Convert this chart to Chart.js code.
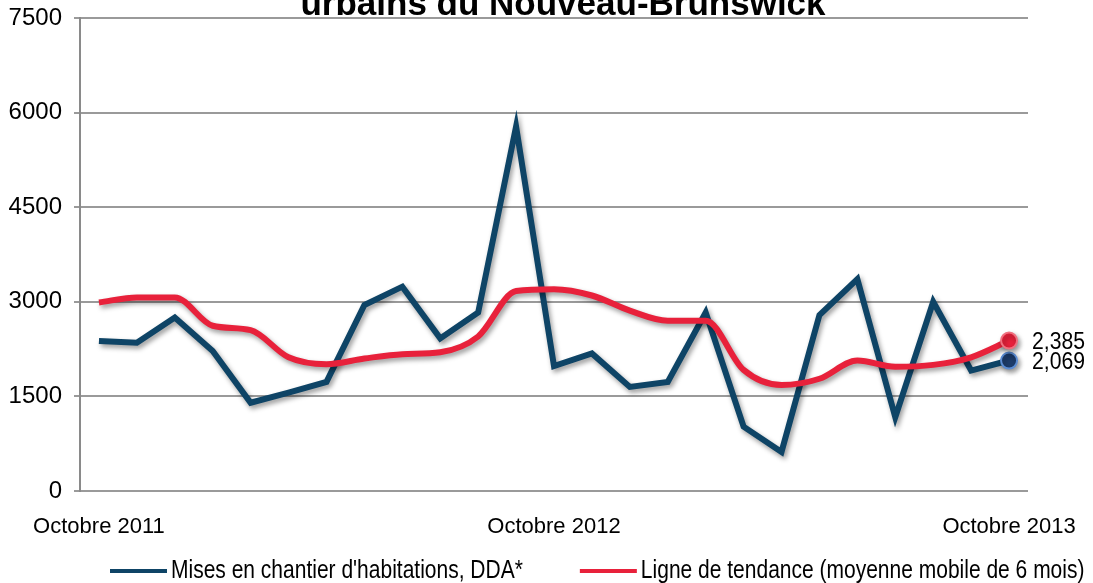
<!DOCTYPE html>
<html>
<head>
<meta charset="utf-8">
<script src="https://cdn.jsdelivr.net/npm/chart.js@4/dist/chart.umd.min.js"></script>
<style>
  body { margin: 0; background: #fff; }
  #wrap { width: 1093px; height: 583px; }
</style>
</head>
<body>
<div id="wrap"><canvas id="chart" width="1093" height="583"></canvas></div>
<script>
// mois d'octobre 2011 à octobre 2013
const months = [
  'Octobre 2011', 'Novembre 2011', 'Décembre 2011', 'Janvier 2012', 'Février 2012', 'Mars 2012',
  'Avril 2012', 'Mai 2012', 'Juin 2012', 'Juillet 2012', 'Août 2012', 'Septembre 2012',
  'Octobre 2012', 'Novembre 2012', 'Décembre 2012', 'Janvier 2013', 'Février 2013', 'Mars 2013',
  'Avril 2013', 'Mai 2013', 'Juin 2013', 'Juillet 2013', 'Août 2013', 'Septembre 2013',
  'Octobre 2013'
];
const shownLabels = ['Octobre 2011', 'Octobre 2012', 'Octobre 2013'];

// mises en chantier, DDA
const starts = [2380, 2350, 2750, 2220, 1400, 1560, 1730, 2950, 3240, 2420, 2830, 5780,
  1980, 2180, 1650, 1730, 2830, 1020, 620, 2790, 3360, 1170, 3000, 1910, 2069];
// moyenne mobile de 6 mois
const trend = [2990, 3070, 3070, 2620, 2550, 2120, 2010, 2100, 2170, 2200, 2450, 3170,
  3200, 3100, 2860, 2700, 2700, 1920, 1680, 1780, 2070, 1970, 2000, 2120, 2385];

const yTicks = [0, 1500, 3000, 4500, 6000, 7500];

const blue = '#0e4466';
const red = '#e8213b';
const font = '"Liberation Sans", Arial, sans-serif';

const lastIdx = months.length - 1;
const radiusAtEnd = months.map((m, i) => i === lastIdx ? 8 : 0);

// ombre portée sous les lignes
const shadowPlugin = {
  id: 'shadow',
  beforeDatasetDraw(chart) {
    const ctx = chart.ctx;
    ctx.save();
    ctx.shadowColor = 'rgba(0,0,0,0.4)';
    ctx.shadowBlur = 5;
    ctx.shadowOffsetX = 2;
    ctx.shadowOffsetY = 3;
  },
  afterDatasetDraw(chart) {
    chart.ctx.restore();
  }
};

// texte resserré horizontalement (police étroite)
function narrowText(ctx, text, x, y, squeeze) {
  ctx.save();
  ctx.translate(x, y);
  ctx.scale(squeeze, 1);
  ctx.fillText(text, 0, 0);
  ctx.restore();
  return ctx.measureText(text).width * squeeze;
}

// titre coupé en haut, étiquettes des dernières valeurs, légende
const extrasPlugin = {
  id: 'extras',
  afterDraw(chart) {
    const ctx = chart.ctx;
    ctx.save();
    ctx.fillStyle = '#000';
    ctx.font = 'bold 35px ' + font;
    ctx.textAlign = 'center';
    ctx.textBaseline = 'alphabetic';
    ctx.fillText('urbains du Nouveau-Brunswick', 563, 15);

    ctx.font = '23px ' + font;
    ctx.textAlign = 'left';
    ctx.textBaseline = 'middle';
    chart.data.datasets.forEach((ds, i) => {
      const pt = chart.getDatasetMeta(i).data[lastIdx];
      narrowText(ctx, ds.data[lastIdx].toLocaleString('en-US'), pt.x + 23, pt.y + 2, 0.92);
    });

    // légende
    let x = 110;
    const y = 571;
    ctx.font = '25px ' + font;
    chart.data.datasets.forEach(ds => {
      ctx.fillStyle = ds.borderColor;
      ctx.fillRect(x, y - 2, 57, 4);
      x += 61;
      ctx.fillStyle = '#000';
      x += narrowText(ctx, ds.label, x, y, 0.84) + 57;
    });
    ctx.restore();
  }
};

new Chart(document.getElementById('chart').getContext('2d'), {
  type: 'line',
  data: {
    labels: months,
    datasets: [{
      label: "Mises en chantier d'habitations, DDA*",
      data: starts,
      borderColor: blue,
      backgroundColor: blue,
      borderWidth: 6,
      tension: 0,
      pointRadius: radiusAtEnd,
      pointBackgroundColor: '#1d3c6b',
      pointBorderColor: '#5a8bd2',
      pointBorderWidth: 2,
      order: 2
    }, {
      label: 'Ligne de tendance (moyenne mobile de 6 mois)',
      data: trend,
      borderColor: red,
      backgroundColor: red,
      borderWidth: 6,
      cubicInterpolationMode: 'monotone',
      pointRadius: radiusAtEnd,
      pointBackgroundColor: red,
      pointBorderColor: '#f0707f',
      pointBorderWidth: 2,
      order: 1
    }]
  },
  options: {
    responsive: false,
    animation: false,
    layout: { padding: { top: 18, right: 65, left: 0, bottom: 24 } },
    plugins: {
      legend: { display: false },
      tooltip: { enabled: false },
      title: { display: false }
    },
    scales: {
      x: {
        offset: true,
        grid: { display: false, drawTicks: false },
        border: { display: false },
        ticks: {
          autoSkip: false,
          maxRotation: 0,
          padding: 23,
          color: '#000',
          font: { family: font, size: 22 },
          callback: function (val) {
            const lab = this.getLabelForValue(val);
            return shownLabels.includes(lab) ? lab : '';
          }
        },
        afterFit(s) {
          s.height = 68;
          s.paddingLeft = 0;
          s.paddingRight = 0;
        }
      },
      y: {
        min: 0,
        max: 7500,
        afterBuildTicks(s) { s.ticks = yTicks.map(v => ({ value: v })); },
        grid: { color: '#9a9a9a', lineWidth: 2, tickLength: 6 },
        border: { color: '#8a8a8a', width: 2 },
        ticks: {
          padding: 12,
          color: '#000',
          font: { family: font, size: 24 },
          callback: v => String(v)
        },
        afterFit(s) {
          s.width = 80;
          s.paddingTop = 0;
          s.paddingBottom = 0;
        }
      }
    }
  },
  plugins: [shadowPlugin, extrasPlugin]
});
</script>
</body>
</html>
